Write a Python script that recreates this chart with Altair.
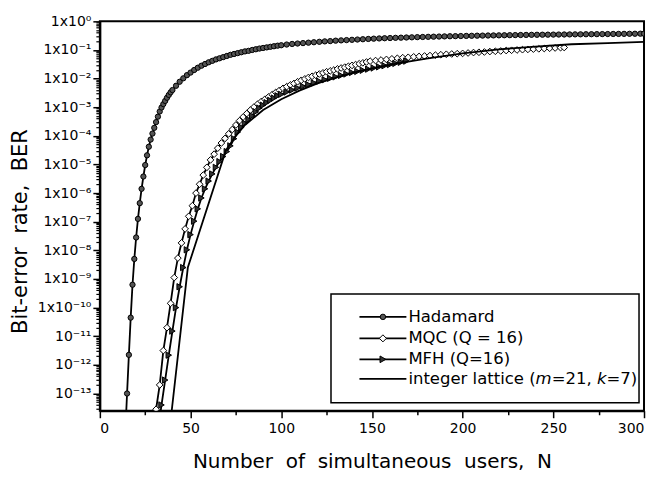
import altair as alt
import pandas as pd

FONT = "DejaVu Sans"

series_names = ["Hadamard", "MQC (Q = 16)", "MFH (Q=16)", "integer lattice (m=21, k=7)"]

# ---- Hadamard (N, log10 BER) ----
had_N = [14, 15, 16, 17, 18, 19, 20, 21, 22, 23, 24, 25, 26, 27, 28, 29, 30, 31, 32, 33,
         34, 35, 36, 37, 38, 39, 40, 42, 44, 46, 48, 50, 52, 54, 56, 58, 60, 62, 64, 66,
         68, 70, 72, 74, 76, 78, 80, 82, 84, 86, 88, 90, 92, 94, 96, 98, 100, 103, 106, 109,
         112, 115, 118, 121, 124, 127, 130, 133, 136, 139, 142, 145, 148, 151, 154, 157, 160, 163, 166, 169,
         172, 175, 178, 181, 184, 187, 190, 193, 196, 199, 202, 205, 208, 211, 214, 217, 220, 223, 226, 229,
         232, 235, 238, 241, 244, 247, 250, 253, 256, 259, 262, 265, 268, 271, 274, 277, 280, 283, 286, 289,
         292, 295, 298, 300]
had_log = [-14.4, -13.0, -11.65, -10.35, -9.2, -8.3, -7.55, -6.9, -6.35, -5.85, -5.42, -5.02, -4.68, -4.38, -4.13, -3.92, -3.72, -3.52, -3.33, -3.15,
           -3.01, -2.89, -2.78, -2.67, -2.57, -2.48, -2.40, -2.25, -2.11, -1.99, -1.88, -1.79, -1.70, -1.62, -1.55, -1.49, -1.43, -1.38, -1.33, -1.29,
           -1.25, -1.21, -1.17, -1.14, -1.11, -1.08, -1.05, -1.03, -1.00, -0.975, -0.95, -0.93, -0.91, -0.89, -0.87, -0.85, -0.835, -0.81, -0.79, -0.775,
           -0.76, -0.745, -0.73, -0.715, -0.70, -0.69, -0.675, -0.665, -0.655, -0.645, -0.635, -0.625, -0.615, -0.605, -0.598, -0.59, -0.583, -0.576, -0.57, -0.564,
           -0.558, -0.552, -0.546, -0.541, -0.536, -0.531, -0.526, -0.521, -0.517, -0.513, -0.509, -0.505, -0.501, -0.498, -0.495, -0.492, -0.489, -0.486, -0.483, -0.48,
           -0.477, -0.474, -0.471, -0.469, -0.467, -0.465, -0.463, -0.461, -0.459, -0.457, -0.455, -0.453, -0.451, -0.449, -0.447, -0.445, -0.443, -0.441, -0.439, -0.437,
           -0.435, -0.433, -0.431, -0.43]

# ---- MQC (Q = 16) ----
mqc_N = [31, 33, 35, 37, 39, 41, 43, 45, 47, 49, 51, 53, 55, 57, 59, 61, 63, 65, 67, 69,
         71, 73, 75, 77, 79, 81, 83, 85, 87, 89, 91, 93, 95, 97, 99, 101, 103, 105, 107, 109,
         111, 113, 115, 117, 119, 121, 123, 125, 127, 129, 131, 133, 135, 137, 139, 141, 143, 145, 147, 149,
         152, 155, 158, 161, 164, 167, 170, 173, 176, 179, 182, 185, 188, 191, 194, 197, 200, 203, 206, 209,
         212, 215, 218, 221, 224, 227, 230, 233, 236, 239, 242, 245, 248, 251, 254, 256]
mqc_log = [-13.55, -12.7, -11.5, -10.7, -9.85, -8.95, -8.27, -7.74, -7.25, -6.81, -6.44, -6.0, -5.69, -5.37, -5.1, -4.84, -4.64, -4.43, -4.25, -4.09,
           -3.93, -3.78, -3.62, -3.47, -3.34, -3.22, -3.1, -2.99, -2.89, -2.8, -2.72, -2.64, -2.56, -2.48, -2.41, -2.34, -2.28, -2.22, -2.17, -2.11,
           -2.06, -2.01, -1.96, -1.92, -1.88, -1.84, -1.80, -1.76, -1.73, -1.70, -1.66, -1.63, -1.60, -1.57, -1.54, -1.51, -1.48, -1.45, -1.42, -1.39,
           -1.37, -1.35, -1.33, -1.31, -1.29, -1.27, -1.255, -1.24, -1.225, -1.21, -1.195, -1.18, -1.165, -1.15, -1.14, -1.13, -1.12, -1.105, -1.09, -1.08,
           -1.07, -1.055, -1.045, -1.035, -1.02, -1.01, -1.0, -0.99, -0.98, -0.97, -0.96, -0.95, -0.94, -0.93, -0.92, -0.915]

# ---- MFH (Q=16) ----
mfh_N = [32, 34, 36, 38, 40, 42, 44, 46, 48, 50, 52, 54, 56, 58, 60, 62, 64, 66, 68, 70,
         72, 74, 76, 78, 80, 82, 84, 86, 88, 90, 92, 94, 96, 98, 100, 103, 106, 109, 112, 115,
         118, 121, 124, 127, 130, 133, 136, 139, 142, 145, 148, 151, 154, 157, 160, 163, 166, 169]
mfh_log = [-14.3, -13.4, -12.53, -11.66, -10.82, -10.0, -9.27, -8.6, -7.98, -7.45, -6.98, -6.55, -6.17, -5.85, -5.58, -5.33, -5.1, -4.9, -4.72, -4.55,
           -4.35, -4.1, -3.87, -3.7, -3.56, -3.43, -3.3, -3.16, -3.03, -2.93, -2.84, -2.76, -2.68, -2.6, -2.55, -2.47, -2.40, -2.33, -2.27, -2.21,
           -2.15, -2.09, -2.04, -1.99, -1.94, -1.89, -1.84, -1.79, -1.75, -1.71, -1.67, -1.63, -1.59, -1.55, -1.51, -1.47, -1.43, -1.39]

# ---- integer lattice (m=21, k=7) ----
lat_N = [39, 48.5, 69.5, 75, 80, 90, 100, 110, 120, 130, 140, 150, 165, 180, 200, 220, 240, 260, 280, 300]
lat_log = [-13.95, -8.6, -4.5, -4.0, -3.62, -3.1, -2.72, -2.42, -2.17, -1.97, -1.79, -1.64, -1.46, -1.3, -1.12, -0.98, -0.88, -0.8, -0.76, -0.72]

# ---- axes ----
y_major = [1e0, 1e-1, 1e-2, 1e-3, 1e-4, 1e-5, 1e-6, 1e-7, 1e-8, 1e-9, 1e-10, 1e-11, 1e-12, 1e-13]
y_tick_labels = ["1x10⁰", "1x10⁻¹", "1x10⁻²", "1x10⁻³", "1x10⁻⁴", "1x10⁻⁵", "1x10⁻⁶",
                 "1x10⁻⁷", "1x10⁻⁸", "1x10⁻⁹", "1x10⁻¹⁰", "10⁻¹¹", "10⁻¹²", "10⁻¹³"]
y_minor = [m * 10.0 ** k for k in range(-14, 0) for m in range(2, 10) if m * 10.0 ** k >= 2.5e-14]
x_major = [0, 50, 100, 150, 200, 250, 300]
x_minor = [25, 75, 125, 175, 225, 275]

x_title = "Number\u00a0 of\u00a0 simultaneous\u00a0 users,\u00a0 N"
y_title = "Bit-error\u00a0 rate,\u00a0 BER"


def make_df(name, N, lg):
    return pd.DataFrame({"N": N, "BER": [10.0 ** v for v in lg], "series": name})


had = make_df(series_names[0], had_N, had_log)
mqc = make_df(series_names[1], mqc_N, mqc_log)
mfh = make_df(series_names[2], mfh_N, mfh_log)
lat = make_df(series_names[3], lat_N, lat_log)

xs = alt.Scale(domain=[0, 300], nice=False, zero=False)
ys = alt.Scale(type="log", domain=[2.5e-14, 1], nice=False)

label_expr = "[" + ",".join("'%s'" % s for s in y_tick_labels) + "][round(-log(datum.value)/LN10)]"

x_axis_major = alt.Axis(values=x_major, tickSize=7, tickWidth=1.5, tickColor="black",
                        domainColor="black", domainWidth=2, labelFont=FONT, labelFontSize=14,
                        labelColor="black", labelPadding=4, grid=False,
                        title=x_title, titleFont=FONT, titleFontSize=20,
                        titleFontWeight="normal", titleColor="black", titleY=51,
                        titleBaseline="middle", orient="bottom")
x_axis_minor = alt.Axis(values=x_minor, tickSize=4, tickWidth=1.5, tickColor="black", domain=False,
                        labels=False, grid=False, title=None, orient="bottom")
y_axis_major = alt.Axis(values=y_major, tickSize=7, tickWidth=1.5, tickColor="black",
                        domainColor="black", domainWidth=2, labelFont=FONT, labelFontSize=14,
                        labelColor="black", labelPadding=2, labelExpr=label_expr, grid=False,
                        title=y_title, titleFont=FONT, titleFontSize=21,
                        titleFontWeight="normal", titleColor="black", titleX=-79, titleY=210,
                        titleBaseline="middle", orient="left")
y_axis_minor = alt.Axis(values=y_minor, tickSize=4, tickWidth=1.2, tickColor="black", domain=False,
                        labels=False, grid=False, title=None, orient="left")


def line_layer(df, xaxis=None, yaxis=None):
    return alt.Chart(df).mark_line(color="black", strokeWidth=1.8, clip=True).encode(
        x=alt.X("N:Q", scale=xs, axis=xaxis),
        y=alt.Y("BER:Q", scale=ys, axis=yaxis),
    )


def point_layer(df, shape, fill, size, xaxis=None, yaxis=None):
    return alt.Chart(df).mark_point(shape=shape, filled=True, fill=fill, stroke="black",
                                    strokeWidth=1, size=size, opacity=1, clip=True).encode(
        x=alt.X("N:Q", scale=xs, axis=xaxis),
        y=alt.Y("BER:Q", scale=ys, axis=yaxis),
    )


# ---- legend (boxed key inside the plot) ----
one = pd.DataFrame({"k": [0]})
LX0, LX1, LY0, LY1 = 231.5, 540, 273, 382
row_y = [296, 317.5, 338.5, 358]
sym_x0, sym_x1, sym_mid, txt_x = 260, 307, 283.5, 309

legend_layers = [
    alt.Chart(one).mark_rect(fill="white", stroke="black", strokeWidth=1.5).encode(
        x=alt.value(LX0), x2=alt.value(LX1), y=alt.value(LY0), y2=alt.value(LY1))
]
marker_specs = [("circle", "#555555", 30), ("diamond", "white", 50), ("triangle-right", "#333333", 45), None]
for i, name in enumerate(series_names):
    legend_layers.append(alt.Chart(one).mark_rule(color="black", strokeWidth=1.8).encode(
        x=alt.value(sym_x0), x2=alt.value(sym_x1), y=alt.value(row_y[i])))
    if marker_specs[i] is not None:
        shp, fl, sz = marker_specs[i]
        legend_layers.append(alt.Chart(one).mark_point(
            shape=shp, filled=True, fill=fl, stroke="black", strokeWidth=1, size=sz, opacity=1
        ).encode(x=alt.value(sym_mid), y=alt.value(row_y[i])))

label_parts = [
    [("Hadamard", "normal", 0)],
    [("MQC (Q = 16)", "normal", 0)],
    [("MFH (Q=16)", "normal", 0)],
    [("integer lattice (", "normal", 0), ("m", "italic", 127.4), ("=21,", "normal", 143.5),
     ("k", "italic", 188.8), ("=7)", "normal", 198.4)],
]
for i, parts in enumerate(label_parts):
    for txt, style, dx in parts:
        legend_layers.append(alt.Chart(one).mark_text(
            text=txt, align="left", baseline="middle", font=FONT, fontSize=16.5,
            fontStyle=style, color="black"
        ).encode(x=alt.value(txt_x + dx), y=alt.value(row_y[i])))

chart = alt.layer(
    line_layer(had, x_axis_major, y_axis_major),
    point_layer(had, "circle", "#555555", 28, x_axis_minor, y_axis_minor),
    line_layer(mqc),
    point_layer(mqc, "diamond", "white", 45),
    line_layer(mfh),
    point_layer(mfh, "triangle-right", "#333333", 40),
    line_layer(lat),
    *legend_layers,
).resolve_axis(x="independent", y="independent").properties(
    width=545, height=390,
    autosize=alt.AutoSizeParams(type="none"),
    padding={"left": 92, "top": 13, "right": 8, "bottom": 66},
    background="white",
).configure_view(stroke="black", strokeWidth=2)

chart.save("out.html", embed_options={"renderer": "svg", "actions": False})
